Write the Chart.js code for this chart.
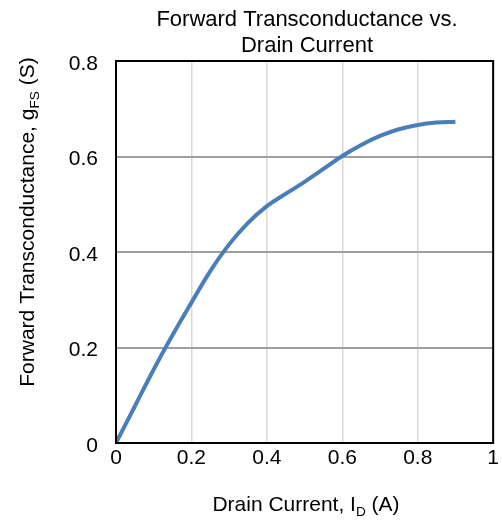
<!DOCTYPE html>
<html>
<head>
<meta charset="utf-8">
<script src="https://cdn.jsdelivr.net/npm/chart.js@4/dist/chart.umd.min.js"></script>
<style>
  html, body { margin: 0; padding: 0; background: #fff; }
  #wrap { width: 502px; height: 521px; }
</style>
</head>
<body>
<div id="wrap"><canvas id="grafico"></canvas></div>
<script>
// ---- data ----
const drainCurrent = [0, 0.05, 0.1, 0.15, 0.2, 0.25, 0.3, 0.35, 0.4, 0.45, 0.5, 0.55, 0.6, 0.65, 0.7, 0.75, 0.8, 0.85, 0.9];
const gfs = [0, 0.077, 0.154, 0.226, 0.294, 0.36, 0.416, 0.461, 0.496, 0.522, 0.547, 0.574, 0.601, 0.624, 0.643, 0.657, 0.666, 0.671, 0.673];
const xTicks = [0, 0.2, 0.4, 0.6, 0.8, 1];
const yTicks = [0, 0.2, 0.4, 0.6, 0.8];

const titleLines = ["Forward Transconductance vs.", "Drain Current"];
// axis titles with subscripts: [text, isSub]
const xTitle = [["Drain Current, I", false], ["D", true], [" (A)", false]];
const yTitle = [["Forward Transconductance, g", false], ["FS", true], [" (S)", false]];

const FONT = "Liberation Sans, Arial, sans-serif";

function drawRich(ctx, parts, size) {
  let w = 0;
  parts.forEach(p => {
    ctx.font = (p[1] ? size * 0.65 : size) + "px " + FONT;
    w += ctx.measureText(p[0]).width;
  });
  let x = -w / 2;
  parts.forEach(p => {
    ctx.font = (p[1] ? size * 0.65 : size) + "px " + FONT;
    ctx.fillText(p[0], x, p[1] ? size * 0.22 : 0);
    x += ctx.measureText(p[0]).width;
  });
}

const textPlugin = {
  id: "textPlugin",
  afterDraw(chart) {
    const ctx = chart.ctx;
    const a = chart.chartArea;
    ctx.save();
    // plot border
    ctx.strokeStyle = "#000";
    ctx.lineWidth = 2;
    ctx.strokeRect(a.left, a.top, a.right - a.left, a.bottom - a.top);

    ctx.fillStyle = "#000";
    ctx.textBaseline = "alphabetic";
    ctx.textAlign = "center";
    ctx.font = "22px " + FONT;
    ctx.fillText(titleLines[0], 307, 26);
    ctx.fillText(titleLines[1], 307, 52);

    ctx.textAlign = "left";
    ctx.save();
    ctx.translate(306, 511);
    drawRich(ctx, xTitle, 21);
    ctx.restore();

    ctx.save();
    ctx.translate(34, 222);
    ctx.rotate(-Math.PI / 2);
    drawRich(ctx, yTitle, 21);
    ctx.restore();
    ctx.restore();
  }
};

const data = {
  labels: drainCurrent,
  datasets: [
    {
      label: "gFS",
      data: drainCurrent.map((x, i) => ({ x: x, y: gfs[i] })),
      borderColor: "#4a7ebb",
      backgroundColor: "#4a7ebb",
      borderWidth: 4,
      pointRadius: 0,
      tension: 0.4,
    },
  ],
};

const config = {
  type: "line",
  data: data,
  options: {
    responsive: true,
    maintainAspectRatio: false,
    animation: false,
    layout: { padding: { left: 0, right: 6, top: 61, bottom: 0 } },
    plugins: { legend: { display: false }, tooltip: { enabled: false } },
    scales: {
      x: {
        type: "linear",
        min: 0,
        max: 1,
        afterBuildTicks: (s) => { s.ticks = xTicks.map(v => ({ value: v })); },
        afterFit: (s) => { s.height = 78; },
        ticks: {
          color: "#000",
          font: { family: FONT, size: 21 },
          padding: 3,
          maxRotation: 0,
          callback: (v) => String(Number(v.toFixed(1))),
        },
        grid: { color: "#d9d9d9", lineWidth: 1.5, drawTicks: false },
        border: { display: false },
      },
      y: {
        min: 0,
        max: 0.8,
        afterBuildTicks: (s) => { s.ticks = yTicks.map(v => ({ value: v })); },
        afterFit: (s) => { s.width = 116; },
        ticks: {
          color: "#000",
          font: { family: FONT, size: 21 },
          padding: 18,
          labelOffset: 3,
          callback: (v) => String(Number(v.toFixed(1))),
        },
        grid: { color: "#a0a0a0", lineWidth: 2, drawTicks: false },
        border: { display: false },
      },
    },
  },
  plugins: [textPlugin],
};

const grafico = new Chart(document.getElementById("grafico"), config);
</script>
</body>
</html>
